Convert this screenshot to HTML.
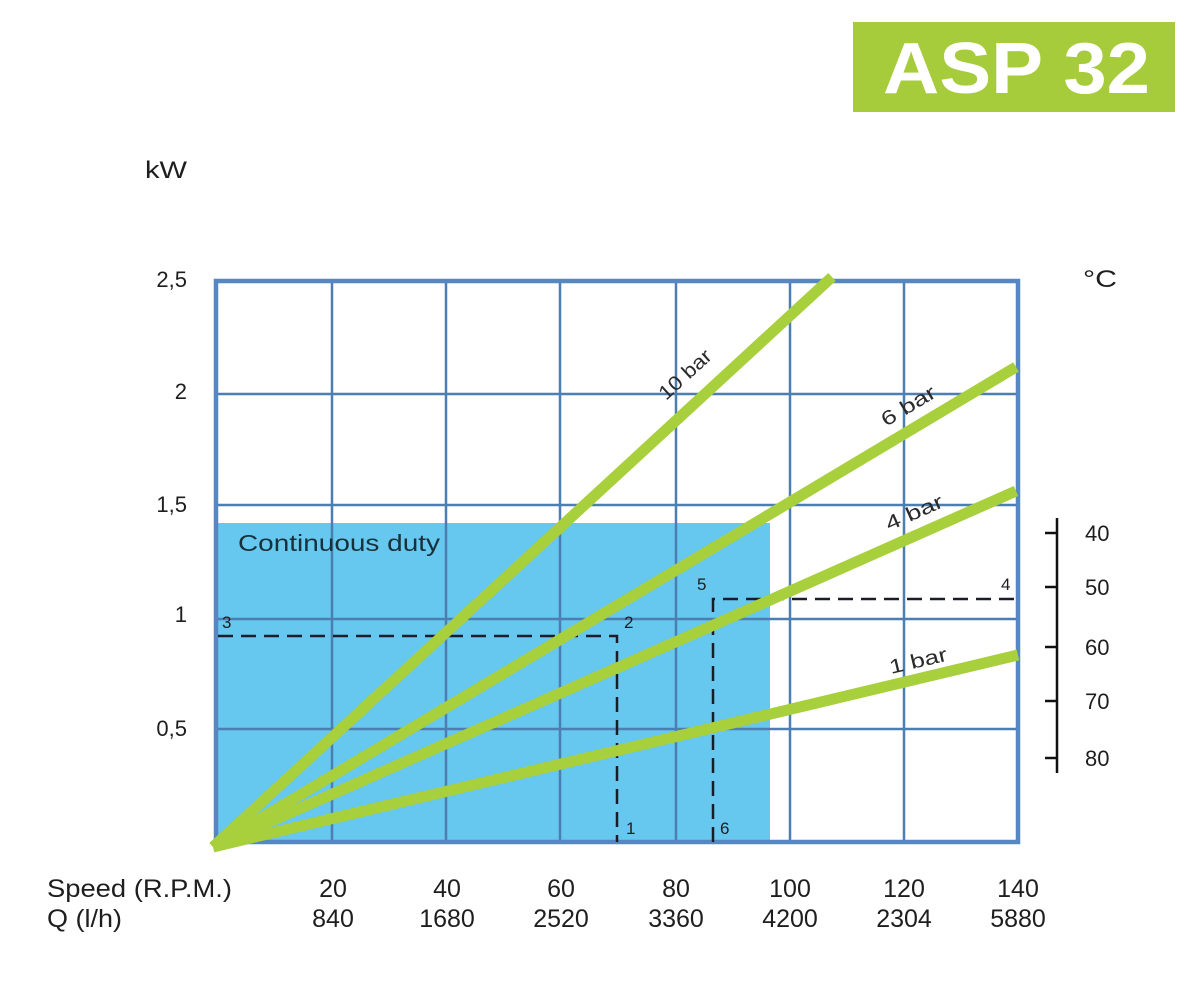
<!DOCTYPE html>
<html>
<head>
<meta charset="utf-8">
<style>
  html, body { margin:0; padding:0; background:#ffffff; }
  svg { display:block; }
  text { font-family: "Liberation Sans", Arial, sans-serif; }
</style>
</head>
<body>
<svg width="1185" height="1000" viewBox="0 0 1185 1000" xmlns="http://www.w3.org/2000/svg">
  <rect x="0" y="0" width="1185" height="1000" fill="#ffffff"/>

  <!-- Title box -->
  <rect x="853" y="22" width="322" height="90" fill="#a7cc3b"/>
  <text x="883" y="93" font-size="72" font-weight="bold" fill="#ffffff" textLength="267" lengthAdjust="spacingAndGlyphs">ASP 32</text>

  <!-- Axis unit labels -->
  <text x="145" y="178" font-size="24" fill="#1e1e1e" textLength="42" lengthAdjust="spacingAndGlyphs">kW</text>
  <text x="1083" y="287" font-size="24" fill="#1e1e1e" textLength="34" lengthAdjust="spacingAndGlyphs">°C</text>

  <!-- Continuous duty blue region -->
  <rect x="218" y="523" width="552" height="319" fill="#66c7ef"/>

  <!-- Grid inner lines -->
  <g stroke="#4d7eb2" stroke-width="2.5" fill="none">
    <line x1="332" y1="281" x2="332" y2="842"/>
    <line x1="446" y1="281" x2="446" y2="842"/>
    <line x1="560" y1="281" x2="560" y2="842"/>
    <line x1="676" y1="281" x2="676" y2="842"/>
    <line x1="790" y1="281" x2="790" y2="842"/>
    <line x1="904" y1="281" x2="904" y2="842"/>
    <line x1="216" y1="394" x2="1018" y2="394"/>
    <line x1="216" y1="505" x2="1018" y2="505"/>
    <line x1="216" y1="619" x2="1018" y2="619"/>
    <line x1="216" y1="729" x2="1018" y2="729"/>
  </g>
  <!-- Grid border -->
  <rect x="216" y="281" width="802" height="561" fill="none" stroke="#5588c0" stroke-width="4.5"/>

  <!-- Continuous duty label -->
  <text x="238" y="551" font-size="23" fill="#17303c" textLength="202" lengthAdjust="spacingAndGlyphs">Continuous duty</text>

  <!-- Dashed operating lines -->
  <g stroke="#1a1c2a" stroke-width="2.5" fill="none" stroke-dasharray="15,8">
    <path d="M218,636 H617 V842"/>
    <path d="M713,842 V599 H1018"/>
  </g>
  <g font-size="17" fill="#1e1e1e">
    <text x="222" y="628">3</text>
    <text x="624" y="628">2</text>
    <text x="626" y="834">1</text>
    <text x="697" y="590">5</text>
    <text x="1001" y="590">4</text>
    <text x="720" y="834">6</text>
  </g>

  <!-- Green pressure lines -->
  <g stroke="#a8cf3c" stroke-width="11" fill="none" stroke-linecap="butt">
    <line x1="213" y1="847" x2="832" y2="277"/>
    <line x1="213" y1="847" x2="1016" y2="367"/>
    <line x1="213" y1="847" x2="1016" y2="491"/>
    <line x1="213" y1="847" x2="1018" y2="655"/>
  </g>

  <!-- Line labels -->
  <g font-size="20" fill="#2a2a2a">
    <text transform="translate(666,401) rotate(-42.5)" textLength="64" lengthAdjust="spacingAndGlyphs">10 bar</text>
    <text transform="translate(886,427) rotate(-30.8)" textLength="60" lengthAdjust="spacingAndGlyphs">6 bar</text>
    <text transform="translate(889,531) rotate(-23.8)" textLength="61" lengthAdjust="spacingAndGlyphs">4 bar</text>
    <text transform="translate(891,674) rotate(-13.3)" textLength="59" lengthAdjust="spacingAndGlyphs">1 bar</text>
  </g>

  <!-- Y-axis labels -->
  <g font-size="22" fill="#1e1e1e" text-anchor="end">
    <text x="187" y="287">2,5</text>
    <text x="187" y="399">2</text>
    <text x="187" y="512">1,5</text>
    <text x="187" y="622">1</text>
    <text x="187" y="736">0,5</text>
  </g>

  <!-- Right temperature axis -->
  <g stroke="#111" stroke-width="2.5">
    <line x1="1057" y1="518" x2="1057" y2="773"/>
    <line x1="1045" y1="533" x2="1057" y2="533"/>
    <line x1="1045" y1="587" x2="1057" y2="587"/>
    <line x1="1045" y1="647" x2="1057" y2="647"/>
    <line x1="1045" y1="701" x2="1057" y2="701"/>
    <line x1="1045" y1="758" x2="1057" y2="758"/>
  </g>
  <g font-size="22" fill="#1e1e1e">
    <text x="1085" y="541">40</text>
    <text x="1085" y="595">50</text>
    <text x="1085" y="655">60</text>
    <text x="1085" y="709">70</text>
    <text x="1085" y="766">80</text>
  </g>

  <!-- Bottom labels -->
  <text x="47" y="897" font-size="25" fill="#1e1e1e" textLength="185" lengthAdjust="spacingAndGlyphs">Speed (R.P.M.)</text>
  <text x="47" y="927" font-size="25" fill="#1e1e1e" textLength="75" lengthAdjust="spacingAndGlyphs">Q (l/h)</text>
  <g font-size="25" fill="#1e1e1e" text-anchor="middle">
    <text x="333" y="897">20</text>
    <text x="447" y="897">40</text>
    <text x="561" y="897">60</text>
    <text x="676" y="897">80</text>
    <text x="790" y="897">100</text>
    <text x="904" y="897">120</text>
    <text x="1018" y="897">140</text>
    <text x="333" y="927">840</text>
    <text x="447" y="927">1680</text>
    <text x="561" y="927">2520</text>
    <text x="676" y="927">3360</text>
    <text x="790" y="927">4200</text>
    <text x="904" y="927">2304</text>
    <text x="1018" y="927">5880</text>
  </g>
</svg>
</body>
</html>
